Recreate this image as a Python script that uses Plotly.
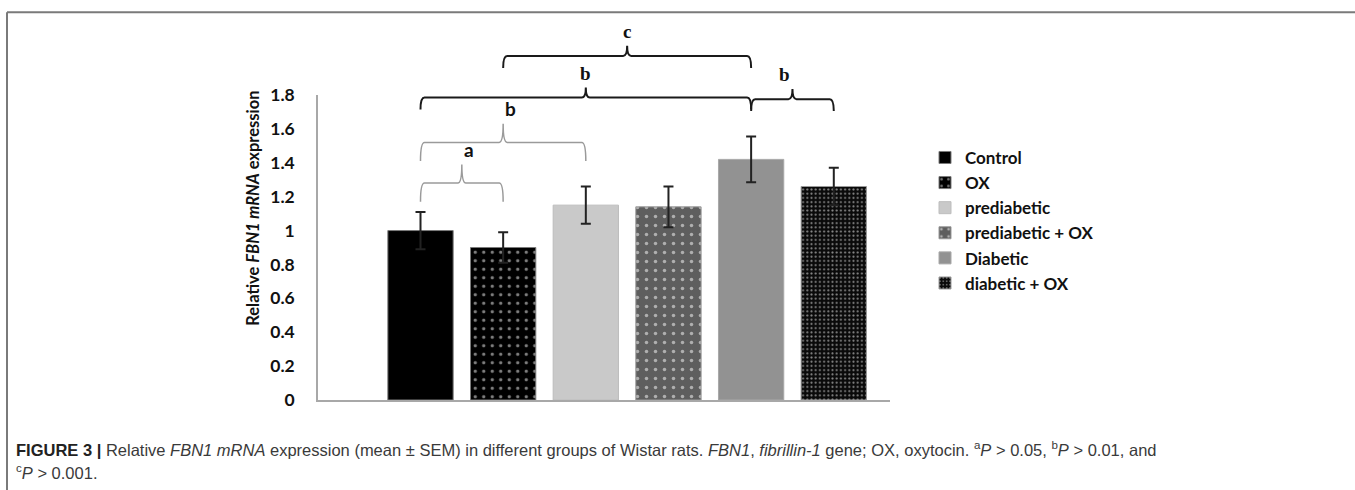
import plotly.graph_objects as go

# ---------------- data ----------------
groups = ["Control", "OX", "prediabetic", "prediabetic + OX", "Diabetic", "diabetic + OX"]
means = [1.00, 0.90, 1.15, 1.14, 1.42, 1.26]
sems = [0.11, 0.09, 0.11, 0.12, 0.135, 0.11]
y_ticks = [0, 0.2, 0.4, 0.6, 0.8, 1, 1.2, 1.4, 1.6, 1.8]
y_ticktext = ["0", "0.2", "0.4", "0.6", "0.8", "1", "1.2", "1.4", "1.6", "1.8"]

# significance brackets: (from group idx, to group idx, label, level in y units, dark?)
brackets = [
    (0, 1, "a", 1.28, False),
    (0, 2, "b", 1.52, False),
    (0, 4, "b", 1.785, True),
    (4, 5, "b", 1.775, True),
    (1, 4, "c", 2.03, True),
]

# ---------------- layout geometry ----------------
W, H = 1355, 490
L, R, T, B = 318, 890, 95, 400.5
XMIN, XMAX = -1.24, 5.68
YMAX = 1.8

def pxx(x):  # pixel x -> paper
    return (x - L) / (R - L)

def pxy(y):  # pixel y -> paper
    return (B - y) / (B - T)

def ix(i):  # category index -> paper x
    return (i - XMIN) / (XMAX - XMIN)

def vy(v):  # value -> paper y
    return v / YMAX

styles = [
    dict(color="#000000", line=dict(color="#7a7a7a", width=1)),
    dict(color="#000000", line=dict(color="#7a7a7a", width=1),
         pattern=dict(shape=".", fgcolor="#ffffff", bgcolor="#000000", size=8.5, solidity=0.12)),
    dict(color="#c9c9c9", line=dict(color="#bdbdbd", width=1)),
    dict(color="#6a6a6a", line=dict(color="#999999", width=1),
         pattern=dict(shape=".", fgcolor="#ffffff", bgcolor="#5e5e5e", size=9, solidity=0.12)),
    dict(color="#929292", line=dict(color="#a8a8a8", width=1)),
    dict(color="#000000", line=dict(color="#999999", width=1),
         pattern=dict(shape=".", fgcolor="#ffffff", bgcolor="#0a0a0a", size=4.2, solidity=0.18)),
]

fig = go.Figure()
for i, (g, m, s) in enumerate(zip(groups, means, sems)):
    fig.add_trace(go.Bar(
        x=[i], y=[m], name=g, width=0.79,
        marker=styles[i],
        error_y=dict(type="data", array=[s], visible=True, color="#222222", thickness=2, width=5),
    ))

shapes = []
annotations = []

# frame of the figure panel
shapes.append(dict(type="line", xref="paper", yref="paper", x0=pxx(7), x1=pxx(1360),
                   y0=pxy(12), y1=pxy(12), line=dict(color="#7a7a7a", width=2)))
shapes.append(dict(type="line", xref="paper", yref="paper", x0=pxx(7), x1=pxx(7),
                   y0=pxy(12), y1=pxy(495), line=dict(color="#7a7a7a", width=2)))

# braces
for (a, b, lab, lev, dark) in brackets:
    x0, x1 = ix(a), ix(b)
    xm = (x0 + x1) / 2
    yh = vy(lev)
    drop = vy(0.07 if dark else 0.11)
    peak = vy(0.06 if dark else 0.11)
    rx = 4 / (R - L)
    path = (f"M{x0},{yh - drop} Q{x0},{yh} {x0 + rx},{yh} "
            f"L{xm - rx},{yh} Q{xm},{yh} {xm},{yh + peak} "
            f"Q{xm},{yh} {xm + rx},{yh} L{x1 - rx},{yh} "
            f"Q{x1},{yh} {x1},{yh - drop}")
    shapes.append(dict(type="path", xref="paper", yref="paper", path=path,
                       line=dict(color="#1a1a1a" if dark else "#9a9a9a", width=2 if dark else 1.5)))
    annotations.append(dict(
        x=xm, y=yh + peak + vy(0.01), xref="paper", yref="paper", text=f"<b>{lab}</b>",
        showarrow=False, yanchor="bottom",
        font=dict(family="Liberation Serif, Times New Roman, serif", size=19, color="#111111")
        if dark else dict(family="Lato, Noto Sans, sans-serif", size=19, color="#111111"),
    ))

# y-axis title
annotations.append(dict(
    x=pxx(241), y=pxy(209), xref="paper", yref="paper", textangle=-90, showarrow=False,
    text="<b>Relative <i>FBN1 mRNA</i> expression</b>",
    font=dict(family="Lato, Noto Sans, sans-serif", size=16.5, color="#111111"),
))

# caption
cap_font = dict(family="Liberation Sans, Arial, sans-serif", size=16.5, color="#3a3a3a")
annotations.append(dict(
    x=pxx(14), y=pxy(450), xref="paper", yref="paper", xanchor="left", yanchor="middle",
    showarrow=False, align="left", font=cap_font,
    text=("<b><span style='color:#222'>FIGURE 3 |</span></b> Relative <i>FBN1 mRNA</i> expression "
          "(mean ± SEM) in different groups of Wistar rats. <i>FBN1</i>, <i>fibrillin-1</i> gene; "
          "OX, oxytocin. <sup>a</sup><i>P</i> > 0.05, <sup>b</sup><i>P</i> > 0.01, and"),
))
annotations.append(dict(
    x=pxx(14), y=pxy(473), xref="paper", yref="paper", xanchor="left", yanchor="middle",
    showarrow=False, align="left", font=cap_font,
    text="<sup>c</sup><i>P</i> > 0.001.",
))

fig.update_layout(
    width=W, height=H,
    margin=dict(l=L, r=W - R, t=T, b=H - B, pad=0),
    paper_bgcolor="white", plot_bgcolor="white",
    barmode="overlay",
    showlegend=True,
    legend=dict(
        x=pxx(925), y=pxy(140), xanchor="left", yanchor="top",
        font=dict(family="Lato, Noto Sans, sans-serif", size=17, color="#111111", weight="bold"),
        bgcolor="rgba(0,0,0,0)", itemclick=False, tracegroupgap=0,
    ),
    xaxis=dict(range=[XMIN, XMAX], showticklabels=False, showgrid=False, zeroline=False,
               showline=True, linecolor="#a8a8a8", linewidth=1.5, ticks=""),
    yaxis=dict(range=[0, YMAX], tickvals=y_ticks, ticktext=y_ticktext, showgrid=False,
               zeroline=False, showline=True, linecolor="#a8a8a8", linewidth=1.5, ticks="",
               ticklabelstandoff=18,
               tickfont=dict(family="Lato, Noto Sans, sans-serif", size=17.5, color="#111111", weight="bold")),
    shapes=shapes,
    annotations=annotations,
)

fig.write_html(
    "out.html",
    config={"displayModeBar": False},
    post_script="document.body.style.margin='0';document.body.style.padding='0';"
                "document.body.style.overflow='hidden';",
)
